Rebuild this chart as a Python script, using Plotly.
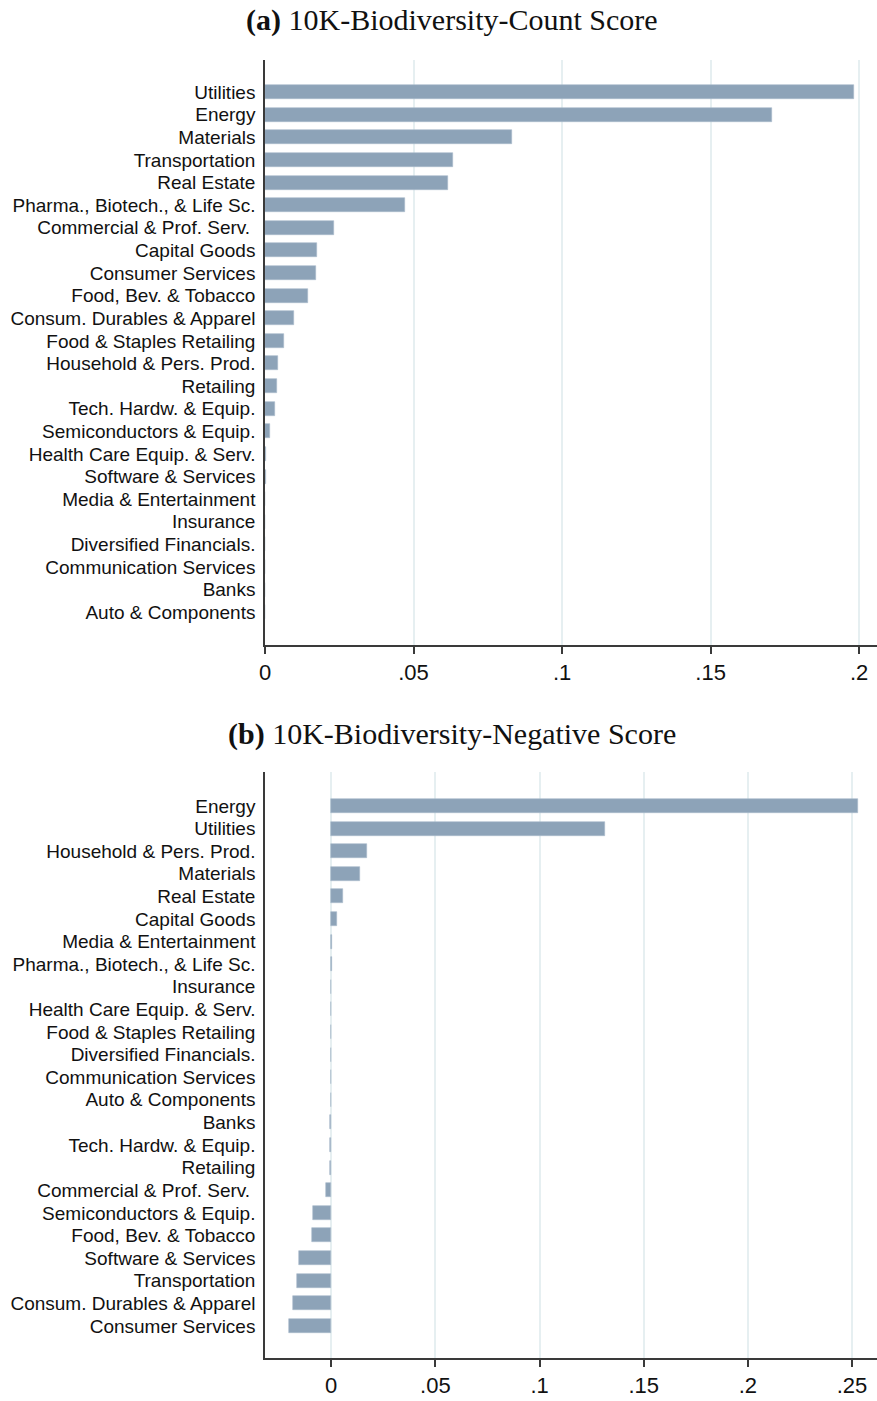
import plotly.graph_objects as go

# panel (a): 10K-Biodiversity-Count Score
cats_a = ["Utilities", "Energy", "Materials", "Transportation", "Real Estate",
          "Pharma., Biotech., & Life Sc.", "Commercial & Prof. Serv.\u00a0", "Capital Goods",
          "Consumer Services", "Food, Bev. & Tobacco", "Consum. Durables & Apparel",
          "Food & Staples Retailing", "Household & Pers. Prod.", "Retailing",
          "Tech. Hardw. & Equip.", "Semiconductors & Equip.", "Health Care Equip. & Serv.",
          "Software & Services", "Media & Entertainment", "Insurance",
          "Diversified Financials.", "Communication Services", "Banks", "Auto & Components"]
vals_a = [0.1983, 0.1706, 0.0831, 0.0632, 0.0615, 0.0470, 0.0233, 0.0176, 0.0172,
          0.0145, 0.0098, 0.0064, 0.0044, 0.0041, 0.0034, 0.0017, 0.0005, 0.0003,
          0, 0, 0, 0, 0, 0]

# panel (b): 10K-Biodiversity-Negative Score
cats_b = ["Energy", "Utilities", "Household & Pers. Prod.", "Materials", "Real Estate",
          "Capital Goods", "Media & Entertainment", "Pharma., Biotech., & Life Sc.",
          "Insurance", "Health Care Equip. & Serv.", "Food & Staples Retailing",
          "Diversified Financials.", "Communication Services", "Auto & Components",
          "Banks", "Tech. Hardw. & Equip.", "Retailing", "Commercial & Prof. Serv.\u00a0",
          "Semiconductors & Equip.", "Food, Bev. & Tobacco", "Software & Services",
          "Transportation", "Consum. Durables & Apparel", "Consumer Services"]
vals_b = [0.2529, 0.1315, 0.0173, 0.0140, 0.0058, 0.0029, 0.0006, 0.0006,
          0, 0, 0, 0, 0, 0, -0.0008, -0.0008, -0.0008, -0.0024,
          -0.0088, -0.0093, -0.0156, -0.0165, -0.0183, -0.0204]

ticks_a = [0, 0.05, 0.1, 0.15, 0.2]
ticks_b = [0, 0.05, 0.1, 0.15, 0.2, 0.25]
ticktext_a = ["0", ".05", ".1", ".15", ".2"]
ticktext_b = ["0", ".05", ".1", ".15", ".2", ".25"]

W, H = 877, 1401
bar_color = "#8DA3B8"
grid_color = "#E6EFF1"
axis_color = "#3a3a3a"

fig = go.Figure()
fig.add_trace(go.Bar(x=vals_a, y=cats_a, orientation="h", width=0.62,
                     marker=dict(color=bar_color, line=dict(color="#A9BBCB", width=0.6)),
                     xaxis="x", yaxis="y", showlegend=False))
fig.add_trace(go.Bar(x=vals_b, y=cats_b, orientation="h", width=0.62,
                     marker=dict(color=bar_color, line=dict(color="#A9BBCB", width=0.6)),
                     xaxis="x2", yaxis="y2", showlegend=False))

xdom = [265 / W, 1]
ydom_a = [1 - 645 / H, 1 - 60 / H]
ydom_b = [1 - 1358 / H, 1 - 772 / H]

tickfont = dict(family="Liberation Sans, Arial", size=22, color="#111")
catfont = dict(family="Liberation Sans, Arial", size=19, color="#111")

common_x = dict(showgrid=True, gridcolor=grid_color, gridwidth=1.5, zeroline=False,
                showline=True, linecolor=axis_color, linewidth=1.5,
                ticks="outside", ticklen=7, tickcolor=axis_color, tickwidth=1.5,
                tickfont=tickfont, domain=xdom, automargin=False)
common_y = dict(showgrid=False, zeroline=False, showline=True, linecolor=axis_color,
                linewidth=1.5, ticks="", tickfont=catfont, ticklabelstandoff=4,
                type="category", automargin=False, tickmode="array")

fig.update_layout(
    width=W, height=H,
    margin=dict(l=0, r=0, t=0, b=0),
    plot_bgcolor="white", paper_bgcolor="white",
    bargap=0,
    xaxis=dict(range=[0, 0.206], tickvals=ticks_a, ticktext=ticktext_a,
               anchor="y", **common_x),
    yaxis=dict(domain=ydom_a, range=[len(cats_a) - 1 + 1.45, -1.42],
               categoryarray=cats_a, categoryorder="array",
               tickvals=cats_a, ticktext=cats_a, anchor="x", **common_y),
    xaxis2=dict(range=[-0.0318, 0.262], tickvals=ticks_b, ticktext=ticktext_b,
                anchor="y2", **common_x),
    yaxis2=dict(domain=ydom_b, range=[len(cats_b) - 1 + 1.42, -1.5],
                categoryarray=cats_b, categoryorder="array",
                tickvals=cats_b, ticktext=cats_b, anchor="x2", **common_y),
    annotations=[
        dict(text="<b>(a)</b> 10K-Biodiversity-Count Score", x=452 / W, y=1 - 20 / H,
             xref="paper", yref="paper", showarrow=False, xanchor="center", yanchor="middle",
             font=dict(family="Liberation Serif, serif", size=30, color="#111")),
        dict(text="<b>(b)</b> 10K-Biodiversity-Negative Score", x=452 / W, y=1 - 734 / H,
             xref="paper", yref="paper", showarrow=False, xanchor="center", yanchor="middle",
             font=dict(family="Liberation Serif, serif", size=30, color="#111")),
    ],
)

# drop the page's default body margin so the figure sits at the corner
fig.write_html("out.html", config={"displayModeBar": False},
               post_script="document.body.style.margin='0px';")
